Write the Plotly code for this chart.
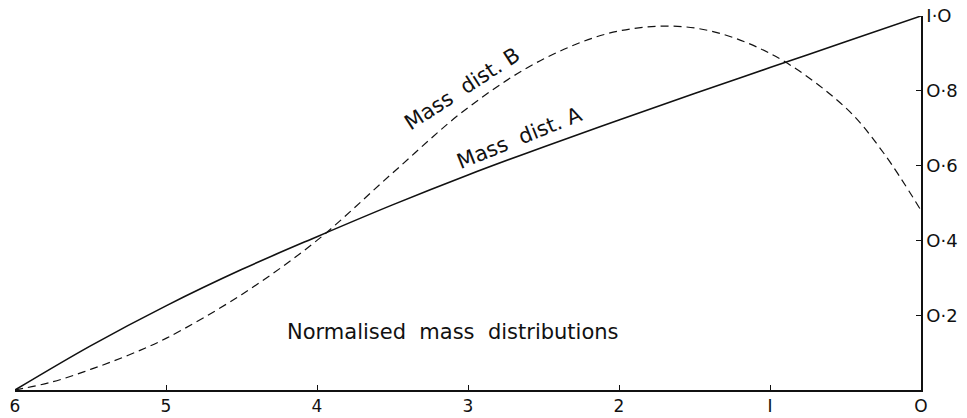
import plotly.graph_objects as go

# Data
x_a = [6.0, 5.5, 5.0, 4.5, 4.0, 3.5, 3.0, 2.5, 2.0, 1.5, 1.0, 0.5, 0.0]
mass_a = [0.0, 0.118, 0.225, 0.322, 0.41, 0.495, 0.575, 0.65, 0.722, 0.793, 0.862, 0.931, 1.0]
x_b = [6.0, 5.75, 5.5, 5.25, 5.0, 4.5, 4.0, 3.5, 3.0, 2.5, 2.0, 1.5, 1.0, 0.5, 0.25, 0.0]
mass_b = [0.0, 0.022, 0.055, 0.093, 0.138, 0.255, 0.40, 0.58, 0.755, 0.885, 0.96, 0.968, 0.90, 0.755, 0.635, 0.48]

x_tickvals = [6, 5, 4, 3, 2, 1, 0]
x_ticktext = ["6", "5", "4", "3", "2", "I", "O"]
y_tickvals = [0.2, 0.4, 0.6, 0.8, 1.0]
y_ticktext = ["O·2", "O·4", "O·6", "O·8", "I·O"]

FONT = "DejaVu Sans"
INK = "#111111"

fig = go.Figure()
fig.add_trace(go.Scatter(x=x_a, y=mass_a, mode="lines", line=dict(color=INK, width=1.6, shape="spline"),
                         name="Mass dist. A", cliponaxis=False))
fig.add_trace(go.Scatter(x=x_b, y=mass_b, mode="lines",
                         line=dict(color=INK, width=1.2, shape="spline", dash="8px,5px"),
                         name="Mass dist. B", cliponaxis=False))

fig.update_layout(
    width=967, height=418,
    margin=dict(l=15, r=46, t=16, b=28),
    paper_bgcolor="white", plot_bgcolor="white",
    showlegend=False,
    font=dict(family=FONT, color=INK, size=17),
    xaxis=dict(range=[6, 0], showgrid=False, zeroline=False, showline=True, linecolor=INK, linewidth=1.5,
               ticks="inside", ticklen=5, tickcolor=INK, tickwidth=1, automargin=False,
               tickvals=x_tickvals, ticktext=x_ticktext, tickfont=dict(size=17, family=FONT, color=INK)),
    yaxis=dict(range=[0, 1.0], side="right", showgrid=False, zeroline=False, showline=True, linecolor=INK,
               linewidth=1.5, ticks="inside", ticklen=5, tickcolor=INK, tickwidth=1, automargin=False,
               tickvals=y_tickvals, ticktext=y_ticktext, tickfont=dict(size=18, family=FONT, color=INK)),
)

fig.add_annotation(x=3.04, y=0.805, text="Mass\u00a0\u00a0dist.\u00a0B", textangle=-33, showarrow=False,
                   font=dict(size=21, family=FONT, color=INK))
fig.add_annotation(x=2.66, y=0.675, text="Mass\u00a0\u00a0dist.\u00a0A", textangle=-22, showarrow=False,
                   font=dict(size=21, family=FONT, color=INK))
fig.add_annotation(x=3.10, y=0.155, text="Normalised\u00a0\u00a0mass\u00a0\u00a0distributions", showarrow=False,
                   font=dict(size=21, family=FONT, color=INK))

fig.write_html("out.html")
